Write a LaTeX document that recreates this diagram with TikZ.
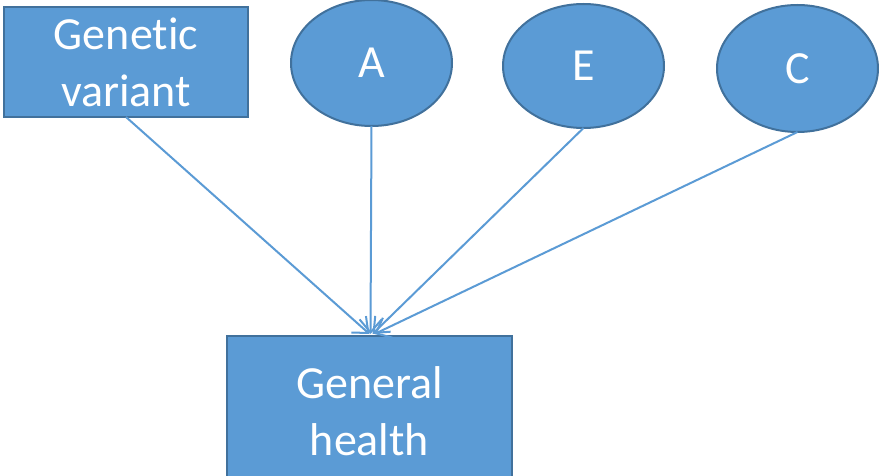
\documentclass[tikz,border=0pt]{standalone}
\usepackage{fontspec}
\setmainfont{Carlito}[Ligatures=NoCommon]
\usetikzlibrary{arrows.meta,shapes.geometric}
\definecolor{boxfill}{HTML}{5B9BD5}
\definecolor{boxline}{HTML}{41719C}
\begin{document}
\begin{tikzpicture}[x=1pt,y=-1pt,
  every node/.style={inner sep=0pt,outer sep=0pt},
  factor/.style={draw=boxline,line width=2pt,fill=boxfill,text=white,
    align=center,font=\fontsize{46}{57}\selectfont},
  rectbox/.style={factor,rectangle},
  oval/.style={factor,ellipse},
  link/.style={draw=boxfill,line width=2pt,
    -{Straight Barb[length=13pt,width=22pt,line width=2pt]}}]
  \clip (0,0) rectangle (879,476);
  \fill[white] (0,0) rectangle (879,476);

  % exposures
  \node[rectbox,minimum width=244pt,minimum height=110pt] (gv) at (126,62) {Genetic\\variant};
  \node[oval,minimum width=161pt,minimum height=126pt] (A) at (371.5,63) {A};
  \node[oval,minimum width=161pt,minimum height=124pt] (E) at (583.5,66) {E};
  \node[oval,minimum width=161pt,minimum height=127pt] (C) at (797.5,68.5) {C};

  % outcome
  \node[rectbox,minimum width=285pt,minimum height=150pt] (gh) at (369.5,411) {General\\health};

  % paths into the outcome
  \draw[link] (gv.south) -- ([xshift=0pt,yshift=2pt]gh.north);
  \draw[link] (A.south) -- ([xshift=1pt,yshift=2pt]gh.north);
  \draw[link] (E.south) -- ([xshift=3pt,yshift=2pt]gh.north);
  \draw[link] (C.south) -- ([xshift=5pt,yshift=2pt]gh.north);
\end{tikzpicture}
\end{document}
